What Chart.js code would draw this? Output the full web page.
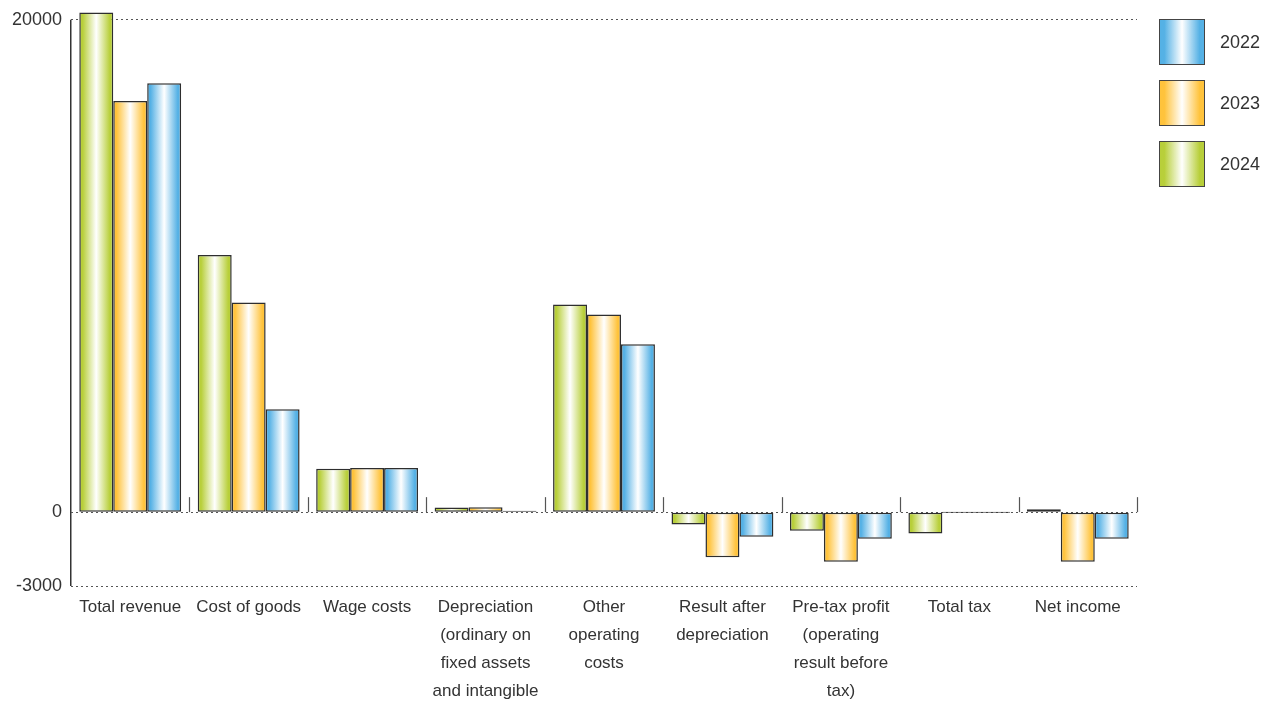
<!DOCTYPE html>
<html>
<head>
<meta charset="utf-8">
<script src="https://cdn.jsdelivr.net/npm/chart.js@4/dist/chart.umd.min.js"></script>
<style>
  html, body { margin: 0; padding: 0; background: #fff; }
  #wrap { position: relative; width: 1268px; height: 702px; }
  #legend { position: absolute; left: 1159px; top: 19px; font-family: "Liberation Sans", Arial, sans-serif; font-size: 18px; color: #333; }
  .item { display: flex; align-items: center; height: 46px; margin-bottom: 15px; }
  .box { width: 44px; height: 44px; border: 1px solid #444; margin-right: 15px; }
</style>
</head>
<body>
<div id="wrap">
  <canvas id="c" width="1268" height="702"></canvas>
  <div id="legend"></div>
</div>
<script>
const categories = [
  "Total revenue",
  "Cost of goods",
  "Wage costs",
  ["Depreciation", "(ordinary on", "fixed assets", "and intangible"],
  ["Other", "operating", "costs"],
  ["Result after", "depreciation"],
  ["Pre-tax profit", "(operating", "result before", "tax)"],
  "Total tax",
  "Net income"
];
const seriesNames = ["2024", "2023", "2022"];
const values2024 = [20300, 10450, 1760, 190, 8440, -500, -760, -870, 120];
const values2023 = [16700, 8520, 1790, 200, 8030, -1830, -2020, 0, -2020];
const values2022 = [17420, 4180, 1790, 60, 6820, -1000, -1080, 0, -1080];
const yTicks = [-3000, 0, 20000];

const edgeColors = ["#b8cf3a", "#ffc33c", "#55b1e5"];
const legendOrder = [2, 1, 0];

const FONT = { family: "'Liberation Sans', Arial, sans-serif", size: 17 };
const catPct = 0.86;

function barGradient(ctx) {
  const chart = ctx.chart;
  const xs = chart.scales && chart.scales.x;
  const col = edgeColors[ctx.datasetIndex];
  if (!xs || ctx.dataIndex === undefined || !isFinite(xs.width) || xs.width <= 0) return col;
  const n = categories.length;
  const step = xs.width / n;
  const bw = step * catPct / 3;
  const center = xs.getPixelForValue(ctx.dataIndex);
  const left = center - 1.5 * bw + ctx.datasetIndex * bw;
  if (!isFinite(left) || !isFinite(bw)) return col;
  const g = chart.ctx.createLinearGradient(left, 0, left + bw, 0);
  g.addColorStop(0, col);
  g.addColorStop(0.1, col);
  g.addColorStop(0.5, "#ffffff");
  g.addColorStop(0.9, col);
  g.addColorStop(1, col);
  return g;
}

const catTicks = {
  id: "catTicks",
  beforeDatasetsDraw(chart) {
    const xs = chart.scales.x, ys = chart.scales.y, c = chart.ctx;
    const y0 = ys.getPixelForValue(0);
    const step = xs.width / categories.length;
    c.save();
    c.strokeStyle = "#555";
    c.lineWidth = 1.2;
    for (let i = 1; i <= categories.length; i++) {
      const x = Math.round(xs.left + i * step) + 0.5;
      c.beginPath();
      c.moveTo(x, y0 - 15);
      c.lineTo(x, y0);
      c.stroke();
    }
    c.restore();
  }
};

const legend = document.getElementById("legend");
legendOrder.forEach(i => {
  const item = document.createElement("div");
  item.className = "item";
  const box = document.createElement("div");
  box.className = "box";
  box.style.background = `linear-gradient(to right, ${edgeColors[i]} 0%, ${edgeColors[i]} 10%, #ffffff 50%, ${edgeColors[i]} 90%, ${edgeColors[i]} 100%)`;
  const txt = document.createElement("span");
  txt.textContent = seriesNames[i];
  item.appendChild(box);
  item.appendChild(txt);
  legend.appendChild(item);
});

const seriesValues = [values2024, values2023, values2022];
const datasets = seriesValues.map((vals, i) => ({
  label: seriesNames[i],
  data: vals,
  backgroundColor: barGradient,
  borderColor: "#2e2e2e",
  borderWidth: 1.5,
  borderSkipped: false,
  minBarLength: 1,
  categoryPercentage: catPct,
  barPercentage: 1.0,
  clip: false
}));

const chart = new Chart(document.getElementById("c"), {
  type: "bar",
  data: { labels: categories, datasets },
  options: {
    responsive: false,
    animation: false,
    devicePixelRatio: 1,
    events: [],
    layout: { padding: { top: 19, right: 131, left: 0, bottom: 0 } },
    plugins: { legend: { display: false }, tooltip: { enabled: false } },
    scales: {
      x: {
        offset: true,
        grid: {
          offset: true,
          drawTicks: false,
          color: c => c.index === 0 ? "#333" : "rgba(0,0,0,0)",
          lineWidth: 1.5
        },
        border: { display: false },
        ticks: { padding: 7, font: { ...FONT, lineHeight: 1.65 }, color: "#333", maxRotation: 0, autoSkip: false },
        afterFit: s => { s.height = 116; }
      },
      y: {
        min: -3000,
        max: 20000,
        afterBuildTicks: s => { s.ticks = yTicks.map(v => ({ value: v })); },
        grid: { drawTicks: false, color: "#555", lineWidth: 1 },
        border: { display: false, dash: [2, 3] },
        ticks: { padding: 9, font: { ...FONT, size: 18 }, color: "#333", callback: v => String(v) },
        afterFit: s => { s.width = 71; }
      }
    }
  },
  plugins: [catTicks]
});
chart.update();
</script>
</body>
</html>
